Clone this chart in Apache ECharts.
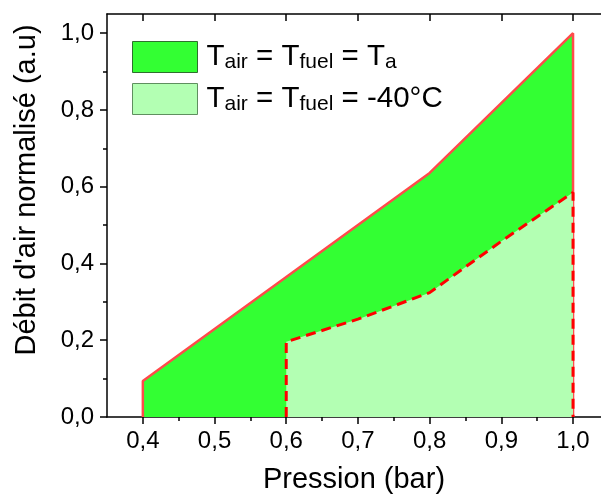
<!DOCTYPE html>
<html>
<head>
<meta charset="utf-8">
<script src="https://cdn.jsdelivr.net/npm/echarts@6/dist/echarts.min.js"></script>
<style>html,body{margin:0;padding:0;background:#fff;}#c{width:601px;height:499px;}</style>
</head>
<body>
<div id="c"></div>
<script>
// Data
var upperX = [0.4, 0.4, 0.6, 0.8, 1.0, 1.0];
var upperY = [0.0, 0.094, 0.365, 0.636, 1.0, 0.0];
var lowerX = [0.6, 0.6, 0.7, 0.8, 0.9, 1.0, 1.0];
var lowerY = [0.0, 0.196, 0.255, 0.324, 0.458, 0.585, 0.0];
var xMajorTicks = [0.4, 0.5, 0.6, 0.7, 0.8, 0.9, 1.0];
var xMinorTicks = [0.45, 0.55, 0.65, 0.75, 0.85, 0.95];
var yMajorTicks = [0.0, 0.2, 0.4, 0.6, 0.8, 1.0];
var yMinorTicks = [0.1, 0.3, 0.5, 0.7, 0.9];
var seriesNames = ['Tair = Tfuel = Ta', 'Tair = Tfuel = -40°C'];
var legendRich = [
  '{m|T}{s|air}{m| = T}{s|fuel}{m| = T}{s|a}',
  '{m|T}{s|air}{m| = T}{s|fuel}{m| = -40°C}'
];
var xTitle = 'Pression (bar)';
var yTitle = "Débit d'air normalisé (a.u)";

function pairs(xs, ys) { return xs.map(function (x, i) { return [x, ys[i]]; }); }
function fmt(v) { return v.toFixed(1).replace('.', ','); }

var FONT = 'Liberation Sans';
// visible x range (the plot frame continues past the right edge of the image)
var XMIN = 0.35, XMAX = 1.039, YMIN = 0, YMAX = 1.05;

var chart = echarts.init(document.getElementById('c'), null, { renderer: 'canvas' });
var axisLine = { show: true, onZero: false, lineStyle: { color: '#000', width: 1.5 } };

chart.setOption({
  animation: false,
  backgroundColor: '#fff',
  grid: { left: 107, top: 14, right: 0, bottom: 81, containLabel: false },
  legend: {
    orient: 'vertical', left: 132, top: 41, padding: 0, itemGap: 10,
    itemWidth: 65, itemHeight: 31,
    data: [
      { name: seriesNames[0], icon: 'rect', itemStyle: { color: '#33ff33', borderColor: '#2f6f2f', borderWidth: 1 } },
      { name: seriesNames[1], icon: 'rect', itemStyle: { color: '#b3ffb3', borderColor: '#5f8f5f', borderWidth: 1 } }
    ],
    formatter: function (name) { return legendRich[seriesNames.indexOf(name)]; },
    textStyle: {
      padding: [0, 0, 0, 4],
      rich: {
        m: { fontFamily: FONT, fontSize: 29.5, color: '#000', lineHeight: 32 },
        s: { fontFamily: FONT, fontSize: 21, color: '#000', lineHeight: 14, verticalAlign: 'bottom' }
      }
    }
  },
  xAxis: [
    {
      type: 'value', position: 'bottom', min: XMIN, max: XMAX,
      name: xTitle, nameLocation: 'middle', nameGap: 48,
      nameTextStyle: { fontFamily: FONT, fontSize: 29, color: '#000', padding: [0, 0, 0, 0] },
      axisLine: axisLine,
      axisTick: { show: true, inside: false, length: 7, customValues: xMajorTicks, lineStyle: { color: '#000', width: 1.5 } },
      axisLabel: { show: true, margin: 12, customValues: xMajorTicks, formatter: fmt, fontFamily: FONT, fontSize: 24, color: '#000' },
      splitLine: { show: false }
    },
    {
      type: 'value', position: 'bottom', min: XMIN, max: XMAX,
      axisLine: { show: false },
      axisTick: { show: true, inside: false, length: 4, customValues: xMinorTicks, lineStyle: { color: '#000', width: 1.5 } },
      axisLabel: { show: false }, splitLine: { show: false }
    },
    {
      type: 'value', position: 'top', min: XMIN, max: XMAX,
      axisLine: axisLine,
      axisTick: { show: true, inside: true, length: 7, customValues: xMajorTicks, lineStyle: { color: '#000', width: 1.5 } },
      axisLabel: { show: false }, splitLine: { show: false }
    },
    {
      type: 'value', position: 'top', min: XMIN, max: XMAX,
      axisLine: { show: false },
      axisTick: { show: true, inside: true, length: 4, customValues: xMinorTicks, lineStyle: { color: '#000', width: 1.5 } },
      axisLabel: { show: false }, splitLine: { show: false }
    }
  ],
  yAxis: [
    {
      type: 'value', position: 'left', min: YMIN, max: YMAX,
      name: yTitle, nameLocation: 'middle', nameGap: 66, nameRotate: 90,
      nameTextStyle: { fontFamily: FONT, fontSize: 29, color: '#000', padding: [0, 0, 0, 51] },
      axisLine: axisLine,
      axisTick: { show: true, inside: false, length: 7, customValues: yMajorTicks, lineStyle: { color: '#000', width: 1.5 } },
      axisLabel: { show: true, margin: 13, customValues: yMajorTicks, formatter: fmt, fontFamily: FONT, fontSize: 24, color: '#000' },
      splitLine: { show: false }
    },
    {
      type: 'value', position: 'left', min: YMIN, max: YMAX,
      axisLine: { show: false },
      axisTick: { show: true, inside: false, length: 4, customValues: yMinorTicks, lineStyle: { color: '#000', width: 1.5 } },
      axisLabel: { show: false }, splitLine: { show: false }
    }
  ],
  series: [
    {
      name: seriesNames[0], type: 'line', xAxisIndex: 0, yAxisIndex: 0,
      data: pairs(upperX, upperY), symbol: 'none', smooth: false,
      lineStyle: { color: '#ff4a4a', width: 2.5 },
      itemStyle: { color: '#33ff33' },
      areaStyle: { color: '#33ff33', opacity: 1, origin: 'start' },
      z: 2
    },
    {
      name: seriesNames[1], type: 'line', xAxisIndex: 0, yAxisIndex: 0,
      data: pairs(lowerX, lowerY), symbol: 'none', smooth: false,
      lineStyle: { color: '#ff0000', width: 3, type: [10, 6] },
      itemStyle: { color: '#b3ffb3' },
      areaStyle: { color: '#b3ffb3', opacity: 1, origin: 'start' },
      z: 3
    }
  ]
});
</script>
</body>
</html>
